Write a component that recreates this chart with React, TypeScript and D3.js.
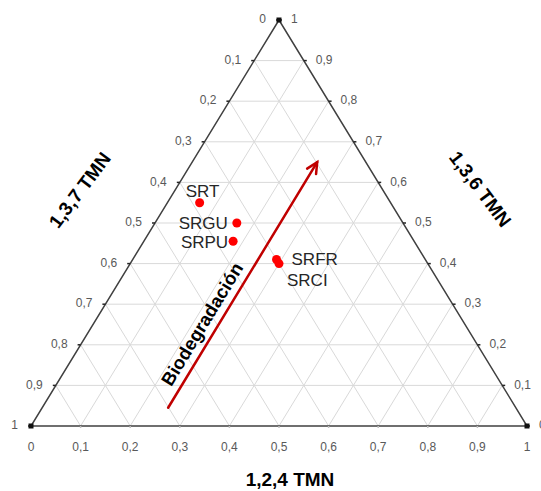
import * as d3 from "d3";

const W = 541;
const H = 491;

// ternary compositions (fraction of each isomer)
const samples = ["SRT", "SRGU", "SRPU", "SRFR", "SRCI"];
const tmn136 = [0.55, 0.5, 0.455, 0.41, 0.4];
const tmn137 = [0.385, 0.335, 0.365, 0.3, 0.3];
const tmn124 = [0.065, 0.165, 0.18, 0.29, 0.3];

// label offsets from each dot (dx, dy, anchor)
const labelDx = [-14, -9, -5, 15, 8];
const labelDy = [-6, 6, 7, 5, 22];
const labelAnchor = ["start", "end", "end", "start", "start"];

const tickValues = [0, 0.1, 0.2, 0.3, 0.4, 0.5, 0.6, 0.7, 0.8, 0.9, 1];

// biodegradation arrow: constant 1,2,4 share, rising 1,3,6 share
const arrowFrom = { t136: 0.045, r124: 0.254 };
const arrowTo = { t136: 0.65, r124: 0.252 };

const locale = d3.formatLocale({
  decimal: ",",
  thousands: ".",
  grouping: [3],
  currency: ["", ""],
});
const fmt = locale.format("~g");

const xScale = d3.scaleLinear().domain([0, 1]).range([31, 527]);
const yScale = d3.scaleLinear().domain([0, 1]).range([426, 20]);

// t = top vertex (1,3,6), r = bottom-right vertex (1,2,4)
const project = (t: number, r: number): [number, number] => [
  xScale(r + t / 2),
  yScale(t),
];

const App = () => {
  const top = project(1, 0);
  const left = project(0, 0);
  const right = project(0, 1);

  const gridLines: [number, number][][] = [];
  tickValues.slice(1, -1).forEach((v) => {
    // horizontal: constant top share
    gridLines.push([project(v, 0), project(v, 1 - v)]);
    // constant bottom-right share (parallel to left edge)
    gridLines.push([project(0, v), project(1 - v, v)]);
    // constant bottom-left share (parallel to right edge)
    gridLines.push([project(0, v), project(v, 0)]);
  });

  const a0 = project(arrowFrom.t136, arrowFrom.r124);
  const a1 = project(arrowTo.t136, arrowTo.r124);
  const ang = Math.atan2(a1[1] - a0[1], a1[0] - a0[0]);
  const angDeg = (ang * 180) / Math.PI;
  const head = 12;
  const hw = 0.45;
  const h1: [number, number] = [
    a1[0] - head * Math.cos(ang - hw),
    a1[1] - head * Math.sin(ang - hw),
  ];
  const h2: [number, number] = [
    a1[0] - head * Math.cos(ang + hw),
    a1[1] - head * Math.sin(ang + hw),
  ];
  const mid: [number, number] = [
    a0[0] + (a1[0] - a0[0]) * 0.31,
    a0[1] + (a1[1] - a0[1]) * 0.31,
  ];
  // shift the text to the left side of the arrow
  const off = 8;
  const txt: [number, number] = [
    mid[0] + off * Math.sin(ang),
    mid[1] - off * Math.cos(ang),
  ];

  const line = d3.line();
  const labelStyle = {
    fontFamily: "'Liberation Sans', Arial, sans-serif",
    fontSize: 12,
    fill: "#595959",
  };

  return (
    <svg
      width={W}
      height={H}
      style={{ position: "absolute", left: 0, top: 0, background: "#fff" }}
    >
      <g className="grid" stroke="#d9d9d9" strokeWidth={1} fill="none">
        {gridLines.map((l, i) => (
          <path key={i} d={line(l) ?? ""} />
        ))}
      </g>
      <path
        d={line([top, left, right, top]) + "Z"}
        fill="none"
        stroke="#404040"
        strokeWidth={1.5}
      />
      {/* edge ticks */}
      <g stroke="#262626" strokeWidth={1.5}>
        {tickValues.map((v) => {
          const pl = project(v, 0);
          const pr = project(v, 1 - v);
          const pb = project(0, v);
          return (
            <g key={v}>
              <line x1={pl[0] - 3} x2={pl[0]} y1={pl[1]} y2={pl[1]} />
              <line x1={pr[0]} x2={pr[0] + 3} y1={pr[1]} y2={pr[1]} />
              <line x1={pb[0]} x2={pb[0]} y1={pb[1]} y2={pb[1] + 2} stroke="#bfbfbf" />
            </g>
          );
        })}
      </g>
      {[top, left, right].map((p, i) => (
        <rect key={i} x={p[0] - 2.5} y={p[1] - 2.5} width={5} height={5} fill="#111" />
      ))}
      {/* left axis labels: 1,3,7 TMN */}
      <g {...labelStyle} textAnchor="end">
        {tickValues.map((v) => {
          const p = project(1 - v, 0);
          return (
            <text key={v} x={p[0] - 13} y={p[1]} dominantBaseline="middle">
              {fmt(v)}
            </text>
          );
        })}
      </g>
      {/* right axis labels: 1,3,6 TMN */}
      <g {...labelStyle} textAnchor="start">
        {tickValues.map((v) => {
          const p = project(v, 1 - v);
          return (
            <text key={v} x={p[0] + 12} y={p[1]} dominantBaseline="middle">
              {fmt(v)}
            </text>
          );
        })}
      </g>
      {/* bottom axis labels: 1,2,4 TMN */}
      <g {...labelStyle} textAnchor="middle">
        {tickValues.map((v) => {
          const p = project(0, v);
          return (
            <text key={v} x={p[0]} y={p[1] + 22} dominantBaseline="middle">
              {fmt(v)}
            </text>
          );
        })}
      </g>
      {/* axis titles */}
      <g
        fontFamily="'Liberation Sans', Arial, sans-serif"
        fontWeight="bold"
        fontSize={19}
        fill="#000"
        textAnchor="middle"
      >
        <text transform="translate(81,191) rotate(-53)" dominantBaseline="middle">
          1,3,7 TMN
        </text>
        <text transform="translate(479,190) rotate(53)" dominantBaseline="middle">
          1,3,6 TMN
        </text>
        <text x={290} y={486}>
          1,2,4 TMN
        </text>
      </g>
      {/* biodegradation arrow */}
      <g stroke="#c00000" strokeWidth={2.5} fill="none" strokeLinecap="round">
        <path d={line([a0, a1]) ?? ""} />
        <path d={line([h1, a1, h2]) ?? ""} strokeLinejoin="miter" />
      </g>
      <text
        transform={`translate(${txt[0]},${txt[1]}) rotate(${angDeg})`}
        textAnchor="middle"
        fontFamily="'Liberation Sans', Arial, sans-serif"
        fontWeight="bold"
        fontSize={18.5}
        fill="#000"
      >
        Biodegradación
      </text>
      {/* samples */}
      <g>
        {samples.map((s, i) => {
          const p = project(tmn136[i], tmn124[i]);
          return (
            <g key={s}>
              <circle cx={p[0]} cy={p[1]} r={4.5} fill="#ff0000" />
              <text
                x={p[0] + labelDx[i]}
                y={p[1] + labelDy[i]}
                textAnchor={labelAnchor[i]}
                fontFamily="'Liberation Sans', Arial, sans-serif"
                fontSize={17}
                fill="#262626"
              >
                {s}
              </text>
            </g>
          );
        })}
      </g>
    </svg>
  );
};

export default App;
